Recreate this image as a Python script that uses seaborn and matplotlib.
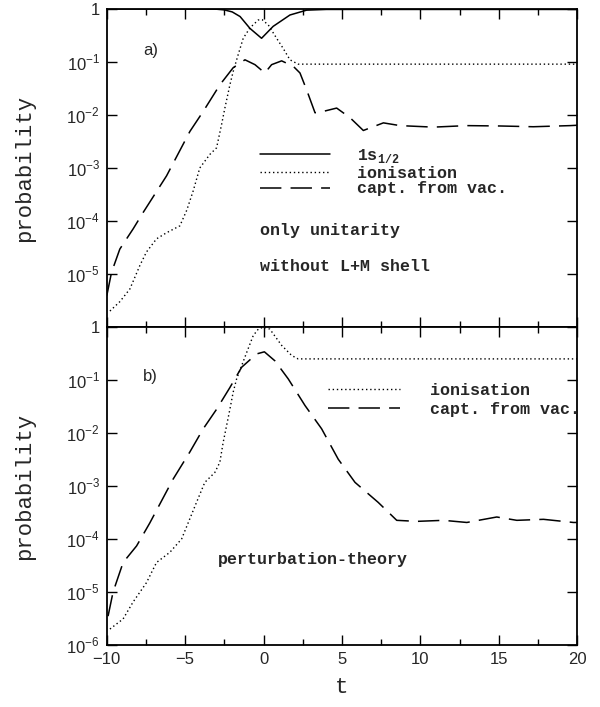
import math
import matplotlib
matplotlib.use("Agg")
import matplotlib.pyplot as plt
import seaborn as sns
from matplotlib.ticker import FuncFormatter, MultipleLocator, NullLocator

# ---- data ----
# panel a) : only unitarity, without L+M shell
t_1s_a = [-10, -4, -3, -2.5, -2, -1.5, -0.87, -0.13, 0.61, 1.68, 2.74, 4, 6, 10, 20]
p_1s_a = [1.0, 1.0, 0.99, 0.96, 0.88, 0.72, 0.43, 0.28, 0.47, 0.77, 0.95, 0.98, 0.98,
          0.98, 0.98]

t_ion_a = [-9.8, -9.17, -8.53, -7.89, -7.47, -6.83, -6.19, -5.34, -4.9, -4.49, -4.07,
           -3.43, -3.0, -2.68, -2.47, -2.15, -1.94, -1.62, -1.30, -0.87, -0.34, -0.1,
           0.3, 0.83, 1.25, 1.68, 2.2, 5, 10, 15, 20]
p_ion_a = [2.0e-6, 3.0e-6, 5.2e-6, 1.45e-5, 2.6e-5, 4.6e-5, 6.0e-5, 8.1e-5, 1.6e-4,
           3.7e-4, 1.0e-3, 1.8e-3, 2.4e-3, 6.6e-3, 1.35e-2, 3.7e-2, 6.6e-2, 0.138, 0.28,
           0.44, 0.62, 0.63, 0.50, 0.28, 0.18, 0.11, 0.091, 0.091, 0.091, 0.091, 0.091]

t_cap_a = [-10, -9.7, -9.17, -8.32, -7.68, -6.19, -4.7, -3.85, -2.79, -1.94, -1.19,
           -0.55, 0.08, 0.51, 1.15, 1.89, 2.32, 2.74, 3.28, 3.81, 4.66, 5.51, 6.36,
           7.64, 8.7, 10.83, 12.96, 15.08, 17.2, 19.55, 20]
p_cap_a = [3.9e-6, 1.07e-5, 2.95e-5, 7.1e-5, 1.45e-4, 7.1e-4, 4.9e-3, 1.17e-2, 3.7e-2,
           7.8e-2, 0.11, 0.089, 0.062, 0.089, 0.105, 0.083, 0.062, 0.030, 0.011, 0.0117,
           0.0135, 0.0089, 0.0051, 0.0071, 0.0063, 0.0059, 0.0063, 0.0062, 0.0060,
           0.0063, 0.0064]

# panel b) : perturbation theory
t_ion_b = [-9.8, -8.96, -8.32, -7.47, -6.83, -5.98, -5.23, -4.28, -3.75, -3.11, -2.79,
           -2.58, -2.36, -2.15, -1.94, -1.72, -1.40, -1.08, -0.66, -0.34, 0, 0.4, 1.15,
           1.79, 2.2, 5, 10, 15, 20]
p_ion_b = [2.0e-6, 3.1e-6, 6.5e-6, 1.5e-5, 3.6e-5, 5.6e-5, 1.0e-4, 4.9e-4, 1.17e-3,
           1.8e-3, 2.8e-3, 6.6e-3, 1.38e-2, 2.8e-2, 5.9e-2, 0.105, 0.186, 0.33, 0.69,
           0.91, 1.0, 0.91, 0.45, 0.29, 0.25, 0.25, 0.25, 0.25, 0.25]

t_cap_b = [-9.92, -9.6, -8.96, -8.1, -7.26, -5.77, -4.7, -3.85, -3.0, -2.15, -1.40,
           -0.45, 0.05, 0.72, 1.57, 2.64, 3.70, 4.76, 5.83, 7.31, 8.49, 9.77, 11.47,
           12.96, 14.87, 16.15, 17.85, 19.76, 20]
p_cap_b = [3.5e-6, 1.0e-5, 3.6e-5, 7.4e-5, 2.0e-4, 1.35e-3, 4.4e-3, 1.2e-2, 2.8e-2,
           7.2e-2, 0.174, 0.31, 0.34, 0.23, 0.105, 0.033, 0.012, 3.2e-3, 1.17e-3,
           4.9e-4, 2.25e-4, 2.15e-4, 2.25e-4, 2.05e-4, 2.6e-4, 2.25e-4, 2.35e-4,
           2.05e-4, 2.05e-4]

y_ticks = [1e-6, 1e-5, 1e-4, 1e-3, 1e-2, 1e-1, 1]
x_ticks = [-10, -5, 0, 5, 10, 15, 20]

# ---- style ----
sns.set_style("ticks")
plt.rcParams["font.family"] = ["Liberation Sans", "DejaVu Sans"]
plt.rcParams["mathtext.fontset"] = "custom"
plt.rcParams["mathtext.rm"] = "Liberation Sans"
plt.rcParams["mathtext.tt"] = "Liberation Mono:bold"

MONO = "Liberation Mono"
TXT = {"family": MONO, "size": 12, "weight": "bold"}
DASHED = (0, (14, 6))
DOTTED = (0, (1, 2))


def fmt_log(v, pos, hide_bottom=False):
    if abs(v - 1) < 1e-9:
        return "1"
    if hide_bottom and v < 2e-6:
        return ""
    return r"$10^{%d}$" % int(round(math.log10(v)))


def style_axis(ax, hide_bottom=False):
    ax.set_yscale("log")
    ax.set_xlim(-10, 20)
    ax.set_ylim(1e-6, 1)
    ax.set_xticks(x_ticks)
    ax.xaxis.set_minor_locator(MultipleLocator(2.5))
    ax.set_yticks(y_ticks)
    ax.yaxis.set_minor_locator(NullLocator())
    ax.yaxis.set_major_formatter(FuncFormatter(lambda v, p: fmt_log(v, p, hide_bottom)))
    ax.tick_params(which="both", direction="in", top=True, right=True, width=1,
                   labelsize=12, color="k")
    ax.tick_params(which="major", length=7, pad=5)
    ax.tick_params(which="minor", length=4)
    for s in ax.spines.values():
        s.set_linewidth(1.3)
        s.set_color("k")
    ax.set_ylabel("probability", fontfamily=MONO, fontsize=16)
    ax.yaxis.set_label_coords(-0.153, 0.5)


fig, (ax1, ax2) = plt.subplots(2, 1, figsize=(6, 7.07), dpi=100, sharex=True)
fig.subplots_adjust(left=0.178, right=0.962, top=0.9873, bottom=0.0877, hspace=0)

# panel a
sns.lineplot(x=t_1s_a, y=p_1s_a, ax=ax1, color="k", linewidth=1.1,
             label=r"1s$_{\mathtt{1/2}}$")
sns.lineplot(x=t_ion_a, y=p_ion_a, ax=ax1, color="k", linewidth=1.0,
             linestyle=DOTTED, label="ionisation")
sns.lineplot(x=t_cap_a, y=p_cap_a, ax=ax1, color="k", linewidth=1.1,
             linestyle=DASHED, label="capt. from vac.")
style_axis(ax1, hide_bottom=True)
ax1.legend(loc="upper left", bbox_to_anchor=(0.326, 0.567), frameon=False,
           borderpad=0, borderaxespad=0, handlelength=4.2, handletextpad=1.6,
           labelspacing=0.05, prop=TXT)
ax1.text(0.077, 0.871, "a)", transform=ax1.transAxes, fontsize=12, va="center")
ax1.text(0.326, 0.304, "only unitarity", transform=ax1.transAxes,
         fontdict=TXT, va="center")
ax1.text(0.326, 0.191, "without L+M shell", transform=ax1.transAxes,
         fontdict=TXT, va="center")

# panel b
sns.lineplot(x=t_ion_b, y=p_ion_b, ax=ax2, color="k", linewidth=1.0,
             linestyle=DOTTED, label="ionisation")
sns.lineplot(x=t_cap_b, y=p_cap_b, ax=ax2, color="k", linewidth=1.1,
             linestyle=DASHED, label="capt. from vac.")
style_axis(ax2)
ax2.legend(loc="upper left", bbox_to_anchor=(0.47, 0.823), frameon=False,
           borderpad=0, borderaxespad=0, handlelength=4.3, handletextpad=1.8,
           labelspacing=0.2, prop=TXT)
ax2.text(0.077, 0.845, "b)", transform=ax2.transAxes, fontsize=12, va="center")
ax2.text(0.236, 0.268, "perturbation-theory", transform=ax2.transAxes,
         fontdict=TXT, va="center")
ax2.set_xlabel("t", fontfamily=MONO, fontsize=16)
ax2.xaxis.set_label_coords(0.5, -0.1)

fig.savefig("out.png", dpi=100)
